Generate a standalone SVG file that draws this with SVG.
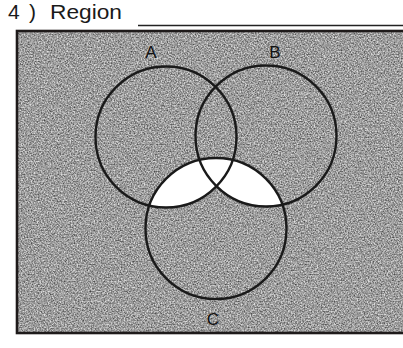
<svg xmlns="http://www.w3.org/2000/svg" width="403" height="348" viewBox="0 0 403 348">
  <defs>
    <filter id="grain" x="0" y="0" width="100%" height="100%" color-interpolation-filters="sRGB">
      <feTurbulence type="fractalNoise" baseFrequency="0.7" numOctaves="2" seed="7" result="n"/>
      <feColorMatrix in="n" type="matrix" values="1 0 0 0 0  1 0 0 0 0  1 0 0 0 0  0 0 0 0 1" result="g"/>
      <feComponentTransfer in="g" result="c">
        <feFuncR type="linear" slope="1.3" intercept="-0.02"/>
        <feFuncG type="linear" slope="1.3" intercept="-0.02"/>
        <feFuncB type="linear" slope="1.3" intercept="-0.02"/>
      </feComponentTransfer>
      <feComposite in="c" in2="SourceGraphic" operator="in"/>
    </filter>
    <clipPath id="unionAB">
      <circle cx="166" cy="137" r="70.5"/>
      <circle cx="266" cy="136" r="70.5"/>
    </clipPath>
  </defs>
  <style>
    .title { font-family: "Liberation Sans", Arial, sans-serif; font-size: 21px; fill: #1a1a1a; }
    .lbl { font-family: "Liberation Sans", Arial, sans-serif; font-size: 17px; fill: #111111; text-anchor: middle; }
    .ring { fill: none; stroke: #1a1a1a; stroke-width: 2.4; }
  </style>
  <rect width="403" height="348" fill="#ffffff"/>
  <g id="heading">
    <text class="title" x="8" y="19">4</text>
    <text class="title" x="29" y="19">)</text>
    <text class="title" x="50" y="19" textLength="72" lengthAdjust="spacingAndGlyphs">Region</text>
    <line x1="138" y1="25.5" x2="403" y2="25.5" stroke="#222" stroke-width="1.5"/>
  </g>
  <g id="universe">
    <rect x="17" y="31" width="400" height="302" fill="#959595"/>
    <rect x="17" y="31" width="400" height="302" fill="#959595" filter="url(#grain)" opacity="0.7"/>
    <circle cx="216" cy="228.5" r="70.5" fill="#ffffff" clip-path="url(#unionAB)"/>
    <rect x="17" y="31" width="400" height="302" fill="none" stroke="#1e1a1a" stroke-width="2.6"/>
  </g>
  <g id="circleA">
    <circle class="ring" cx="166" cy="137" r="70.5"/>
    <text class="lbl" x="151" y="58">A</text>
  </g>
  <g id="circleB">
    <circle class="ring" cx="266" cy="136" r="70.5"/>
    <text class="lbl" x="275" y="58">B</text>
  </g>
  <g id="circleC">
    <circle class="ring" cx="216" cy="228.5" r="70.5"/>
    <text class="lbl" x="213" y="325">C</text>
  </g>
</svg>
